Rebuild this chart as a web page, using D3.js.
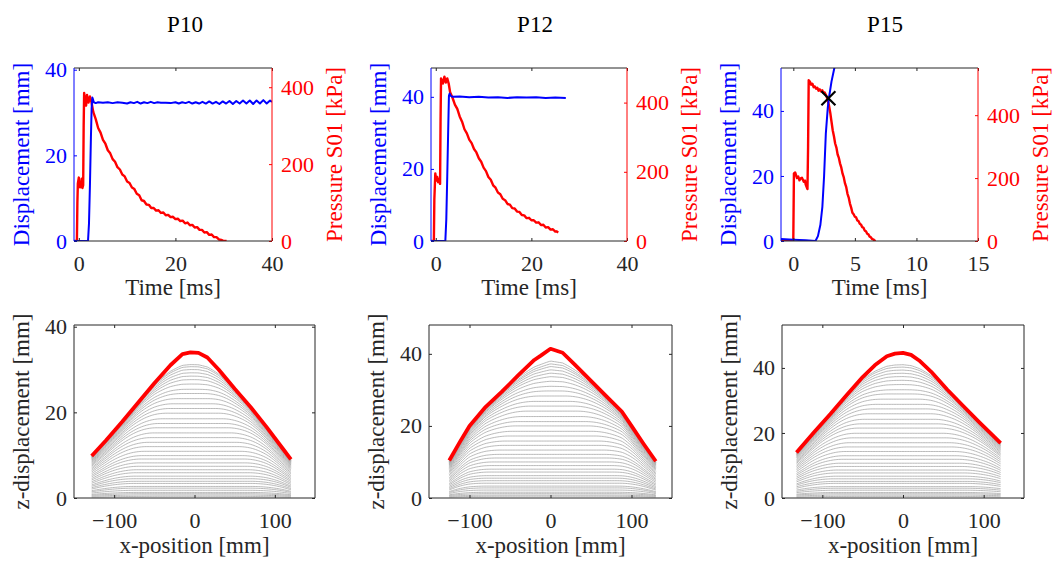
<!DOCTYPE html>
<html><head><meta charset="utf-8">
<script src="https://cdn.jsdelivr.net/npm/d3@7"></script>
<style>body{margin:0;background:#fff}svg{display:block}text{font-family:"Liberation Serif","Times New Roman",serif}</style>
</head><body><svg id="c" width="1056" height="561"></svg>
<script>
// ---------------- DATA ----------------
const titles = ["P10", "P12", "P15"];
const timeTicks = [[0, 20, 40], [0, 20, 40], [0, 5, 10, 15]];
const dispTicks = [0, 20, 40];
const presTicks = [0, 200, 400];
const xposTicks = [-100, 0, 100];
const zTicks = [0, 20, 40];
const timeDomains = [[-1, 40], [-1, 40], [-1, 15]];
const dispDomains = [[0, 40.4], [0, 48], [0, 53.2]];
const presDomains = [[0, 450], [0, 500], [0, 550]];
const xposDomain = [-150, 150];

// displacement [mm] vs time [ms]
const p10Disp = [[-1,0],[1.9,0],[2.1,4],[2.3,13],[2.5,24],[2.65,31],[2.8,33.5],[2.95,33.0],[3.1,32.4],[3.5,32.2],[4,32.4],[5,32.3],[6,32.4],[7,32.2],[8,32.4],[9,32.3],[10,32.1],[10.7,32.4],[11.4,32.2],[12.1,32.5],[12.8,32.1],[13.5,32.4],[14.2,32.2],[14.9,32.5],[15.6,32.2],[16.3,32.4],[17,32.3],[18,32.3],[19,32.2],[20,32.4],[20.7,32.1],[21.4,32.4],[22.1,32.2],[22.8,32.5],[23.5,32.1],[24.2,32.4],[24.9,32.1],[25.6,32.5],[26.3,32.1],[27,32.6],[27.7,32.1],[28.4,32.5],[29.1,32.0],[29.8,32.6],[30.5,32.1],[31.2,32.7],[31.9,32.0],[32.6,32.7],[33.3,32.1],[34,32.8],[34.7,32.1],[35.4,32.8],[36.1,32.0],[36.8,32.8],[37.5,32.1],[38.2,32.9],[38.9,32.1],[39.6,32.8],[40,32.5]];
const p12Disp = [[-1,0],[2.0,0],[2.2,6],[2.4,18],[2.6,31],[2.75,40.3],[2.9,40.9],[3.1,40.3],[3.5,40.0],[5,40.1],[7,39.9],[9,40.0],[11,39.8],[13,39.9],[15,39.7],[17,39.9],[19,39.8],[21,39.9],[23,39.7],[25,39.8],[27.2,39.7]];
const p15Disp = [[-1,0.6],[0,0.4],[1,0.2],[1.8,0],[2.0,1.5],[2.2,5],[2.36,10.5],[2.5,20],[2.64,33],[2.8,41],[2.91,44.4],[3.1,49],[3.35,53.5],[3.45,56]];
// pressure S01 [kPa] vs time [ms]
const p10Pres = [[-1,0],[-0.4,0],[-0.3,100],[-0.2,150],[0,165],[0.15,140],[0.3,150],[0.45,140],[0.6,162],[0.75,138],[0.9,145],[1.0,300],[1.1,385],[1.3,368],[1.5,352],[1.7,380],[2.0,360],[2.3,376],[2.6,362],[3.0,335],[3.5,317],[4,294],[4.5,282],[5,263],[5.5,253],[6,236],[6.5,228],[7,213],[7.5,206],[8,192],[8.5,186],[9,173],[9.5,168],[10,155],[10.5,151],[11,139],[11.5,135],[12,123],[12.5,119],[13,106],[13.5,104],[14,95],[14.5,94],[15,86],[15.5,86],[16,79],[16.5,80],[17,73],[17.5,74],[18,67],[18.5,68],[19,62],[19.5,63],[20,57],[20.5,58],[21,52],[21.5,53],[22,46],[22.5,48],[23,41],[23.5,42],[24,35],[24.5,36],[25,29],[25.5,29],[26,22],[26.5,23],[27,16],[27.5,17],[28,10],[28.5,10],[29,4],[29.5,3],[30,0],[30.6,0]];
const p12Pres = [[-1,0],[-0.4,0],[-0.3,120],[-0.1,195],[0.1,175],[0.3,185],[0.5,170],[0.7,180],[0.9,165],[1.0,350],[1.1,470],[1.3,462],[1.5,455],[1.8,475],[2.1,458],[2.4,470],[2.7,455],[3.0,430],[3.5,414],[4,394],[4.5,382],[5,360],[5.5,345],[6,323],[6.5,311],[7,293],[7.5,283],[8,266],[8.5,256],[9,239],[9.5,229],[10,212],[10.5,202],[11,185],[11.5,177],[12,161],[12.5,154],[13,140],[13.5,135],[14,122],[14.5,118],[15,107],[15.5,105],[16,95],[16.5,94],[17,85],[17.5,84],[18,75],[18.5,74],[19,66],[19.5,67],[20,60],[20.5,60],[21,53],[21.5,54],[22,46],[22.5,47],[23,39],[23.5,40],[24,33],[24.5,34],[25,27],[25.3,28],[25.6,24]];
const p15Pres = [[-1,0],[-0.1,0],[0,5],[0.05,215],[0.15,218],[0.3,200],[0.4,205],[0.5,193],[0.6,199],[0.7,201],[0.85,188],[0.95,192],[1.0,180],[1.1,170],[1.15,165],[1.2,300],[1.25,511],[1.35,506],[1.45,497],[1.55,500],[1.65,489],[1.75,491],[1.85,484],[1.95,487],[2.05,478],[2.15,482],[2.25,476],[2.35,479],[2.45,471],[2.55,472],[2.65,464],[2.7,460],[2.8,447],[2.9,430],[3.0,408],[3.1,380],[3.2,352],[3.3,333],[3.4,310],[3.5,297],[3.6,275],[3.7,264],[3.8,246],[3.9,233],[4.0,214],[4.1,202],[4.2,183],[4.3,171],[4.4,150],[4.5,138],[4.6,119],[4.7,106],[4.8,90],[4.9,85],[5.0,77],[5.1,75],[5.2,65],[5.3,63],[5.4,55],[5.5,52],[5.6,44],[5.7,42],[5.8,33],[5.9,31],[6.0,23],[6.1,21],[6.2,14],[6.3,12],[6.4,6],[6.5,5],[6.6,1],[6.7,0]];
const p15Marker = [2.85, 43.9];

// final z-displacement profiles [mm] vs x-position [mm]
const p10Final = [[-128,9.8],[-110,13.5],[-90,17.8],[-70,22.3],[-50,26.8],[-30,31],[-15,33.6],[-5,34],[5,33.9],[16,32.8],[30,30],[50,25.5],[70,21.2],[90,16.5],[110,11.5],[120,9.0]];
const p12Final = [[-125,10.4],[-112,15.5],[-100,20],[-80,25.3],[-60,29.5],[-40,34],[-20,38.3],[-12,39.5],[0,41.4],[15,40.3],[30,37],[50,32.5],[70,28],[88,24],[100,20],[115,15],[130,10.2]];
const p15Final = [[-132,14],[-110,20.3],[-90,25.8],[-70,31.6],[-50,37.2],[-35,40.8],[-20,43.6],[-10,44.4],[0,44.6],[10,44],[20,42.3],[35,38.8],[55,33.3],[75,28.2],[95,23.2],[110,19.6],[121,16.9]];
// intermediate profiles: centre height and left-edge height of each grey line
const p10Mid = [0.4,0.7,1.0,1.3,1.8,2.3,2.7,3.4,3.9,4.5,5.1,5.9,6.6,7.4,8.2,9.1,9.9,10.9,12.0,13.0,14.1,15.2,16.4,17.4,18.5,19.8,20.9,22.0,23.2,24.4,25.4,26.7,27.9,28.9,29.9,31.0,32.0,32.8];
const p10Edge = [0.25,0.45,0.65,0.85,1.15,1.45,1.7,2.1,2.4,2.75,3.05,3.45,3.8,4.2,4.55,4.95,5.3,5.7,6.1,6.45,6.8,7.1,7.45,7.7,7.95,8.2,8.4,8.6,8.8,8.95,9.1,9.25,9.35,9.45,9.55,9.62,9.7,9.75];
const p12Mid = [0.5,0.8,1.2,1.6,2.2,2.8,3.3,4.1,4.8,5.5,6.2,7.2,8.0,9.0,10.0,11.1,12.1,13.3,14.6,15.8,17.2,18.5,20.0,21.2,22.6,24.1,25.5,26.8,28.3,29.7,31.0,32.5,34.0,35.2,36.4,37.8,39.0,40.2];
const p12Edge = [0.3,0.5,0.7,0.9,1.25,1.55,1.8,2.25,2.55,2.9,3.25,3.65,4.0,4.45,4.85,5.25,5.6,6.05,6.45,6.85,7.2,7.55,7.9,8.2,8.45,8.7,8.95,9.15,9.35,9.5,9.65,9.8,9.9,10.0,10.1,10.15,10.2,10.3];
const p15Mid = [0.5,0.9,1.3,1.7,2.4,3.0,3.5,4.5,5.1,5.9,6.7,7.7,8.6,9.7,10.7,11.9,13.0,14.3,15.7,17.0,18.5,19.9,21.5,22.8,24.2,25.9,27.4,28.8,30.4,32.0,33.3,35.0,36.5,37.9,39.2,40.6,42.0,43.3];
const p15Edge = [0.35,0.65,0.95,1.2,1.65,2.05,2.45,3.0,3.45,3.95,4.35,4.95,5.45,6.0,6.5,7.05,7.55,8.15,8.7,9.2,9.7,10.15,10.65,11.0,11.35,11.7,12.0,12.3,12.55,12.8,13.0,13.2,13.35,13.5,13.65,13.75,13.85,13.9];

// ---------------- LAYOUT / STYLE ----------------
const svg = d3.select("#c");
const FONT = '"Liberation Serif","Times New Roman",serif';
const AX = "#262626", BLUE = "#0000ff", RED = "#ff0000", GREY = "#a8a8a8";
const topBoxes = [[74, 272], [431, 627], [781, 978]];
const botBoxes = [[74, 315], [429, 672], [782, 1024]];
const topY = [68, 241], botY = [325, 498];
const titleX = [185, 535, 885];
const TICK = 22, LAB = 23;

const dispSets = [p10Disp, p12Disp, p15Disp];
const presSets = [p10Pres, p12Pres, p15Pres];
const finals = [p10Final, p12Final, p15Final];
const mids = [p10Mid, p12Mid, p15Mid];
const edges = [p10Edge, p12Edge, p15Edge];

function styleAxis(g, color) {
  g.select(".domain").remove();
  g.selectAll(".tick line").attr("stroke", color).attr("stroke-width", 1);
  g.selectAll(".tick text").attr("fill", color).style("font-size", TICK + "px").style("font-family", FONT);
}
function spine(x1, y1, x2, y2, c) {
  svg.append("line").attr("x1", x1).attr("y1", y1).attr("x2", x2).attr("y2", y2).attr("stroke", c).attr("stroke-width", 1);
}
function label(txt, x, y, color, rot) {
  const t = svg.append("text").text(txt).attr("fill", color).attr("text-anchor", "middle").style("font-size", LAB + "px");
  if (rot) t.attr("transform", `translate(${x},${y}) rotate(-90)`); else t.attr("x", x).attr("y", y);
}

// ---------------- TOP ROW ----------------
titles.forEach((title, i) => {
  const [x0, x1] = topBoxes[i];
  const x = d3.scaleLinear().domain(timeDomains[i]).range([x0, x1]);
  const yd = d3.scaleLinear().domain(dispDomains[i]).range([topY[1], topY[0]]);
  const yp = d3.scaleLinear().domain(presDomains[i]).range([topY[1], topY[0]]);

  svg.append("text").text(title).attr("x", titleX[i]).attr("y", 32).attr("text-anchor", "middle").attr("fill", "#000").style("font-size", "23px");

  const clipId = "clipT" + i;
  svg.append("clipPath").attr("id", clipId).append("rect").attr("x", x0).attr("y", topY[0]).attr("width", x1 - x0).attr("height", topY[1] - topY[0]);
  const g = svg.append("g").attr("clip-path", `url(#${clipId})`);
  g.append("path").datum(presSets[i]).attr("fill", "none").attr("stroke", RED).attr("stroke-width", 2.4).attr("stroke-linejoin", "round")
    .attr("d", d3.line().x(d => x(d[0])).y(d => yp(d[1])));
  g.append("path").datum(dispSets[i]).attr("fill", "none").attr("stroke", BLUE).attr("stroke-width", 2).attr("stroke-linejoin", "round")
    .attr("d", d3.line().x(d => x(d[0])).y(d => yd(d[1])));
  if (i === 2) {
    const mx = x(p15Marker[0]), my = yd(p15Marker[1]), s = 7;
    svg.append("path").attr("d", `M${mx - s},${my - s}L${mx + s},${my + s}M${mx - s},${my + s}L${mx + s},${my - s}`).attr("stroke", "#000").attr("stroke-width", 2.2);
  }

  const gb = svg.append("g").attr("transform", `translate(0,${topY[1]})`).call(d3.axisBottom(x).tickValues(timeTicks[i]).tickSize(-3).tickPadding(14));
  styleAxis(gb, AX);
  const gt = svg.append("g").attr("transform", `translate(0,${topY[0]})`).call(d3.axisTop(x).tickValues(timeTicks[i]).tickSize(-3).tickFormat(""));
  styleAxis(gt, AX);
  const gl = svg.append("g").attr("transform", `translate(${x0},0)`).call(d3.axisLeft(yd).tickValues(dispTicks).tickSize(-3).tickPadding(7));
  styleAxis(gl, BLUE);
  const gr = svg.append("g").attr("transform", `translate(${x1},0)`).call(d3.axisRight(yp).tickValues(presTicks).tickSize(-3).tickPadding(9));
  styleAxis(gr, RED);
  spine(x0, topY[0], x1, topY[0], AX);
  spine(x0, topY[1], x1, topY[1], AX);
  spine(x0, topY[0], x0, topY[1], BLUE);
  spine(x1, topY[0], x1, topY[1], RED);

  label("Time [ms]", (x0 + x1) / 2, 295, AX, false);
  label("Displacement [mm]", x0 - 45, (topY[0] + topY[1]) / 2, BLUE, true);
  label("Pressure S01 [kPa]", x1 + 70, (topY[0] + topY[1]) / 2, RED, true);
});

// ---------------- BOTTOM ROW ----------------
function smin(a, b, k) { const h = Math.max(k - Math.abs(a - b), 0) / k; return Math.min(a, b) - h * h * k * 0.25; }
function interp(prof, xv) {
  for (let j = 0; j < prof.length - 1; j++) {
    const [xa, ya] = prof[j], [xb, yb] = prof[j + 1];
    if (xv >= xa && xv <= xb) return ya + (yb - ya) * (xv - xa) / (xb - xa);
  }
  return prof[prof.length - 1][1];
}
titles.forEach((title, i) => {
  const [x0, x1] = botBoxes[i];
  const x = d3.scaleLinear().domain(xposDomain).range([x0, x1]);
  const y = d3.scaleLinear().domain(dispDomains[i]).range([botY[1], botY[0]]);
  const prof = finals[i];
  const xa = prof[0][0], xb = prof[prof.length - 1][0];
  const xs = d3.range(xa, xb, 2).concat([xb]);
  const line = d3.line().x(d => x(d[0])).y(d => y(d[1]));
  const g = svg.append("g");
  mids[i].forEach((m, k) => {
    const alpha = edges[i][k] / prof[0][1];
    const pts = xs.map(xv => [xv, smin(m, alpha * interp(prof, xv), 0.25 * m + 0.3)]);
    g.append("path").datum(pts).attr("fill", "none").attr("stroke", GREY).attr("stroke-width", 0.8).attr("d", line);
  });
  g.append("path").datum(prof).attr("fill", "none").attr("stroke", RED).attr("stroke-width", 3.8).attr("stroke-linejoin", "round").attr("d", line);

  const gb = svg.append("g").attr("transform", `translate(0,${botY[1]})`).call(d3.axisBottom(x).tickValues(xposTicks).tickSize(-3).tickPadding(14));
  styleAxis(gb, AX);
  const gt = svg.append("g").attr("transform", `translate(0,${botY[0]})`).call(d3.axisTop(x).tickValues(xposTicks).tickSize(-3).tickFormat(""));
  styleAxis(gt, AX);
  const gl = svg.append("g").attr("transform", `translate(${x0},0)`).call(d3.axisLeft(y).tickValues(zTicks).tickSize(-3).tickPadding(7));
  styleAxis(gl, AX);
  const gr = svg.append("g").attr("transform", `translate(${x1},0)`).call(d3.axisRight(y).tickValues(zTicks).tickSize(-3).tickFormat(""));
  styleAxis(gr, AX);
  spine(x0, botY[0], x1, botY[0], AX);
  spine(x0, botY[1], x1, botY[1], AX);
  spine(x0, botY[0], x0, botY[1], AX);
  spine(x1, botY[0], x1, botY[1], AX);

  label("x-position [mm]", (x0 + x1) / 2, 553, AX, false);
  label("z-displacement [mm]", x0 - 45, (botY[0] + botY[1]) / 2, AX, true);
});
</script></body></html>
